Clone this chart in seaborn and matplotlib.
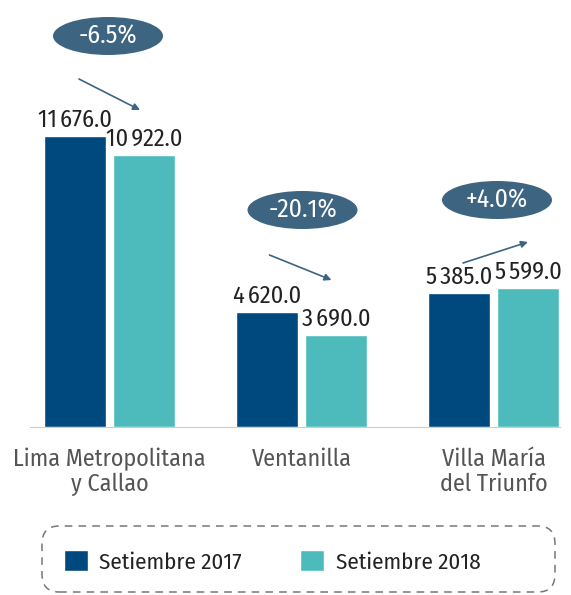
import pandas as pd
import matplotlib.pyplot as plt
import seaborn as sns
from matplotlib.patches import Ellipse, FancyBboxPatch

# Data
regiones = ["Lima Metropolitana\ny Callao", "Ventanilla", "Villa María\ndel Triunfo"]
periodos = ["Setiembre 2017", "Setiembre 2018"]
valores_2017 = [11676.0, 4620.0, 5385.0]
valores_2018 = [10922.0, 3690.0, 5599.0]
variacion = ["-6.5%", "-20.1%", "+4.0%"]

colores = ["#00497E", "#4DBBBC"]
burbuja = "#3D6480"

df = pd.DataFrame({
    "region": regiones * 2,
    "periodo": [periodos[0]] * 3 + [periodos[1]] * 3,
    "valor": valores_2017 + valores_2018,
})

sns.set_style("white")
plt.rcParams["font.family"] = ["Fira Sans Condensed", "Lato", "DejaVu Sans"]

fig = plt.figure(figsize=(5.71, 5.95), dpi=100)
# axes placed in pixels: baseline at y=427, groups 192 px apart
ax = fig.add_axes([30 / 571, 168 / 595, 530 / 571, 427 / 595])

sns.barplot(data=df, x="region", y="valor", hue="periodo", order=regiones,
            hue_order=periodos, palette=colores, width=0.72, gap=0.1,
            saturation=1, ax=ax, legend=True)

px_y = 0.0249  # pixels per unit
ax.set_ylim(0, 427 / px_y)
ax.set_xlim(-79.5 / 192, (530 - 79.5) / 192)


def miles(v):
    # thousands separated by a thin space, as in the reference
    return f"{v:,.1f}".replace(",", "\u2009")


for cont in ax.containers:
    ax.bar_label(cont, labels=[miles(v) for v in cont.datavalues],
                 padding=3, fontsize=17.5, color="#222222")

sns.despine(ax=ax, left=True)
ax.spines["bottom"].set_color("#CCCCCC")
ax.set_yticks([])
ax.set_xlabel("")
ax.set_ylabel("")
ax.tick_params(axis="x", length=0, pad=15, labelsize=17.3, labelcolor="#555555")
for t in ax.get_xticklabels():
    t.set_linespacing(1.1)

# percentage bubbles and arrows (pixel offsets converted to data units)
burbujas_y = [36, 210, 200]
flechas = [((-30.5, 79), (30.5, 110)), ((-32, 255), (30, 280)), ((-30.5, 263), (34.5, 242))]
bx_off = [-1.5, 1, 3.5]
for i, txt in enumerate(variacion):
    yc = (427 - burbujas_y[i]) / px_y
    ax.add_patch(Ellipse((i + bx_off[i] / 192, yc), 110 / 192, 38 / px_y,
                         facecolor=burbuja, edgecolor="none", clip_on=False))
    ax.text(i + bx_off[i] / 192, yc, txt, ha="center", va="center",
            color="white", fontsize=18.5)
    (x0, y0), (x1, y1) = flechas[i]
    ax.annotate("", xy=(i + x1 / 192, (427 - y1) / px_y),
                xytext=(i + x0 / 192, (427 - y0) / px_y),
                arrowprops=dict(arrowstyle="-|>", color=burbuja, lw=1.2,
                                mutation_scale=10, shrinkA=0, shrinkB=0))

# legend inside a dashed rounded box
handles, labels = ax.get_legend_handles_labels()
ax.get_legend().remove()
fig.legend(handles, labels, loc="center", bbox_to_anchor=(272 / 571, 1 - 561.5 / 595),
           ncol=2, frameon=False, fontsize=16.5, handlelength=1.05, handleheight=1.05,
           handletextpad=0.5, columnspacing=2.55, labelcolor="#222222")
caja = FancyBboxPatch((42 / 571, 3 / 595), 513 / 571, 66 / 595,
                      boxstyle="round,pad=0,rounding_size=0.03",
                      transform=fig.transFigure, facecolor="none",
                      edgecolor="#777777", linestyle=(0, (5, 4)), linewidth=1.1)
fig.patches.append(caja)

fig.savefig("out.png", dpi=100)
